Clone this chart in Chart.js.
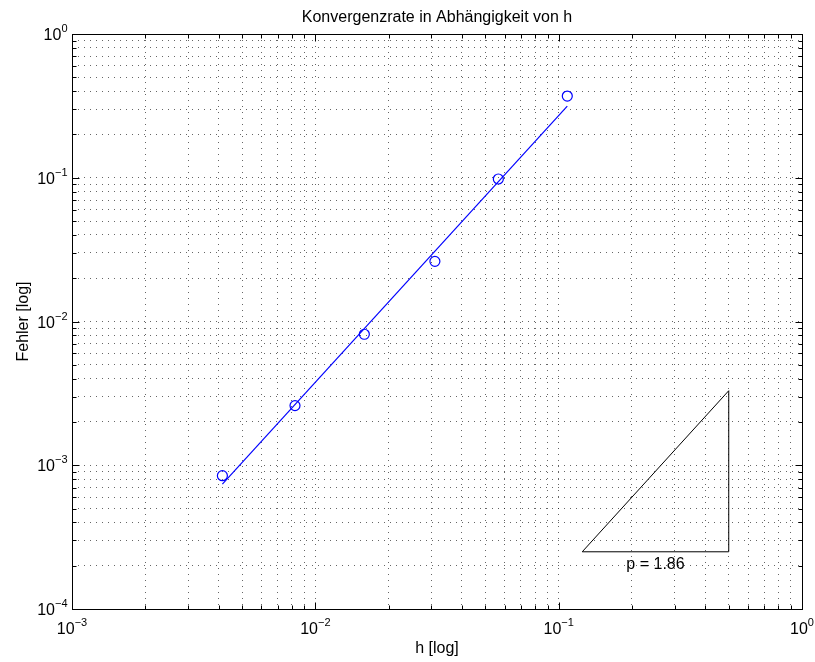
<!DOCTYPE html>
<html>
<head>
<meta charset="utf-8">
<script src="https://cdn.jsdelivr.net/npm/chart.js@4.4.1/dist/chart.umd.min.js"></script>
<style>
  html, body { margin: 0; padding: 0; background: #fff; }
  #wrap { width: 815px; height: 662px; }
</style>
</head>
<body>
<div id="wrap"><canvas id="c" width="815" height="662"></canvas></div>
<script>
// Measured step sizes and errors
const hValues = [0.00415, 0.00825, 0.0159, 0.031, 0.0565, 0.1085];
const errorValues = [8.46e-4, 2.6e-3, 8.15e-3, 0.0262, 0.098, 0.37];

// Fitted line through the measurements (end points)
const fitH = [0.00415, 0.1085];
const fitError = [7.4e-4, 0.315];

// Slope triangle
const slopeH = [0.125, 0.5, 0.5, 0.125];
const slopeError = [2.5e-4, 2.5e-4, 3.3e-3, 2.5e-4];
const slopeLabel = 'p = 1.86';
const slopeLabelH = 0.25;

// Decades shown on each axis
const xDecades = [-3, -2, -1, 0];
const yDecades = [-4, -3, -2, -1, 0];

const titleText = 'Konvergenzrate in Abhängigkeit von h';
const xLabel = 'h [log]';
const yLabel = 'Fehler [log]';

const FONT = '"Liberation Sans", Arial, Helvetica, sans-serif';

// 1..9 x 10^e for every decade, last decade only its power of ten
function logTicks(decades) {
  const out = [];
  decades.forEach((e, i) => {
    const last = i === decades.length - 1;
    for (let m = 1; m <= (last ? 1 : 9); m++) {
      out.push({ value: Number((m * Math.pow(10, e)).toPrecision(12)), major: m === 1, exp: e });
    }
  });
  return out;
}

const xTicks = logTicks(xDecades);
const yTicks = logTicks(yDecades);

function pts(xs, ys) { return xs.map((x, i) => ({ x: x, y: ys[i] })); }

function drawPower(ctx, exp, x, baseline, align) {
  const baseFont = '16px ' + FONT;
  const supFont = '11px ' + FONT;
  const expStr = exp < 0 ? '\u2212' + Math.abs(exp) : String(exp);
  ctx.font = baseFont;
  const wb = ctx.measureText('10').width;
  ctx.font = supFont;
  const we = ctx.measureText(expStr).width;
  const total = wb + we;
  const start = align === 'center' ? x - total / 2 : x - total;
  ctx.textAlign = 'left';
  ctx.textBaseline = 'alphabetic';
  ctx.font = baseFont;
  ctx.fillText('10', start, baseline);
  ctx.font = supFont;
  ctx.fillText(expStr, start + wb, baseline - 8);
}

const framePlugin = {
  id: 'frame',
  afterDraw(chart) {
    const ctx = chart.ctx;
    const xs = chart.scales.x, ys = chart.scales.y;
    const a = chart.chartArea;
    const L = Math.round(a.left) + 0.5, R = Math.round(a.right) + 0.5;
    const T = Math.round(a.top) + 0.5, B = Math.round(a.bottom) + 0.5;
    ctx.save();
    ctx.strokeStyle = '#000';
    ctx.lineWidth = 1;
    ctx.setLineDash([]);
    ctx.strokeRect(L, T, R - L, B - T);

    // inward tick marks on all four sides
    ctx.beginPath();
    xTicks.forEach(t => {
      const px = Math.round(xs.getPixelForValue(t.value)) + 0.5;
      const len = t.major ? 7 : 4;
      ctx.moveTo(px, B); ctx.lineTo(px, B - len);
      ctx.moveTo(px, T); ctx.lineTo(px, T + len);
    });
    yTicks.forEach(t => {
      const py = Math.round(ys.getPixelForValue(t.value)) + 0.5;
      const len = t.major ? 7 : 4;
      ctx.moveTo(L, py); ctx.lineTo(L + len, py);
      ctx.moveTo(R, py); ctx.lineTo(R - len, py);
    });
    ctx.stroke();

    // tick labels
    ctx.fillStyle = '#000';
    xTicks.filter(t => t.major).forEach(t => {
      drawPower(ctx, t.exp, xs.getPixelForValue(t.value), B + 24, 'center');
    });
    yTicks.filter(t => t.major).forEach(t => {
      drawPower(ctx, t.exp, L - 5, ys.getPixelForValue(t.value) + 6, 'right');
    });

    // title and axis labels
    ctx.font = '16px ' + FONT;
    ctx.textAlign = 'center';
    ctx.textBaseline = 'alphabetic';
    ctx.fillText(titleText, (a.left + a.right) / 2, 22);
    ctx.fillText(xLabel, (a.left + a.right) / 2, 653);
    ctx.save();
    ctx.translate(28, (a.top + a.bottom) / 2);
    ctx.rotate(-Math.PI / 2);
    ctx.fillText(yLabel, 0, 0);
    ctx.restore();

    // slope annotation
    ctx.font = '16px ' + FONT;
    ctx.fillText(slopeLabel, xs.getPixelForValue(slopeLabelH), ys.getPixelForValue(slopeError[0]) + 17);
    ctx.restore();
  }
};

const gridCfg = {
  display: true,
  color: 'rgba(0,0,0,0.6)',
  lineWidth: 1,
  drawTicks: false
};

new Chart(document.getElementById('c'), {
  type: 'scatter',
  data: {
    datasets: [
      {
        label: 'Fit',
        data: pts(fitH, fitError),
        showLine: true,
        borderColor: '#0000ff',
        borderWidth: 1.2,
        pointRadius: 0
      },
      {
        label: 'Fehler',
        data: pts(hValues, errorValues),
        showLine: false,
        pointStyle: 'circle',
        pointRadius: 5,
        borderColor: '#0000ff',
        backgroundColor: 'rgba(0,0,0,0)',
        borderWidth: 1.2
      },
      {
        label: 'Steigung',
        data: pts(slopeH, slopeError),
        showLine: true,
        borderColor: '#000',
        borderWidth: 1,
        pointRadius: 0
      }
    ]
  },
  options: {
    responsive: false,
    animation: false,
    devicePixelRatio: 1,
    layout: { padding: { left: 72, top: 34, right: 13, bottom: 53 } },
    plugins: { legend: { display: false }, tooltip: { enabled: false }, title: { display: false } },
    scales: {
      x: {
        type: 'logarithmic',
        min: 1e-3, max: 1,
        afterBuildTicks: s => { s.ticks = xTicks.map(t => ({ value: t.value })); },
        ticks: { display: false },
        grid: gridCfg,
        border: { display: false, dash: [1, 5] }
      },
      y: {
        type: 'logarithmic',
        min: 1e-4, max: 1,
        afterBuildTicks: s => { s.ticks = yTicks.map(t => ({ value: t.value })); },
        ticks: { display: false },
        grid: gridCfg,
        border: { display: false, dash: [1, 5] }
      }
    }
  },
  plugins: [framePlugin]
});
</script>
</body>
</html>
